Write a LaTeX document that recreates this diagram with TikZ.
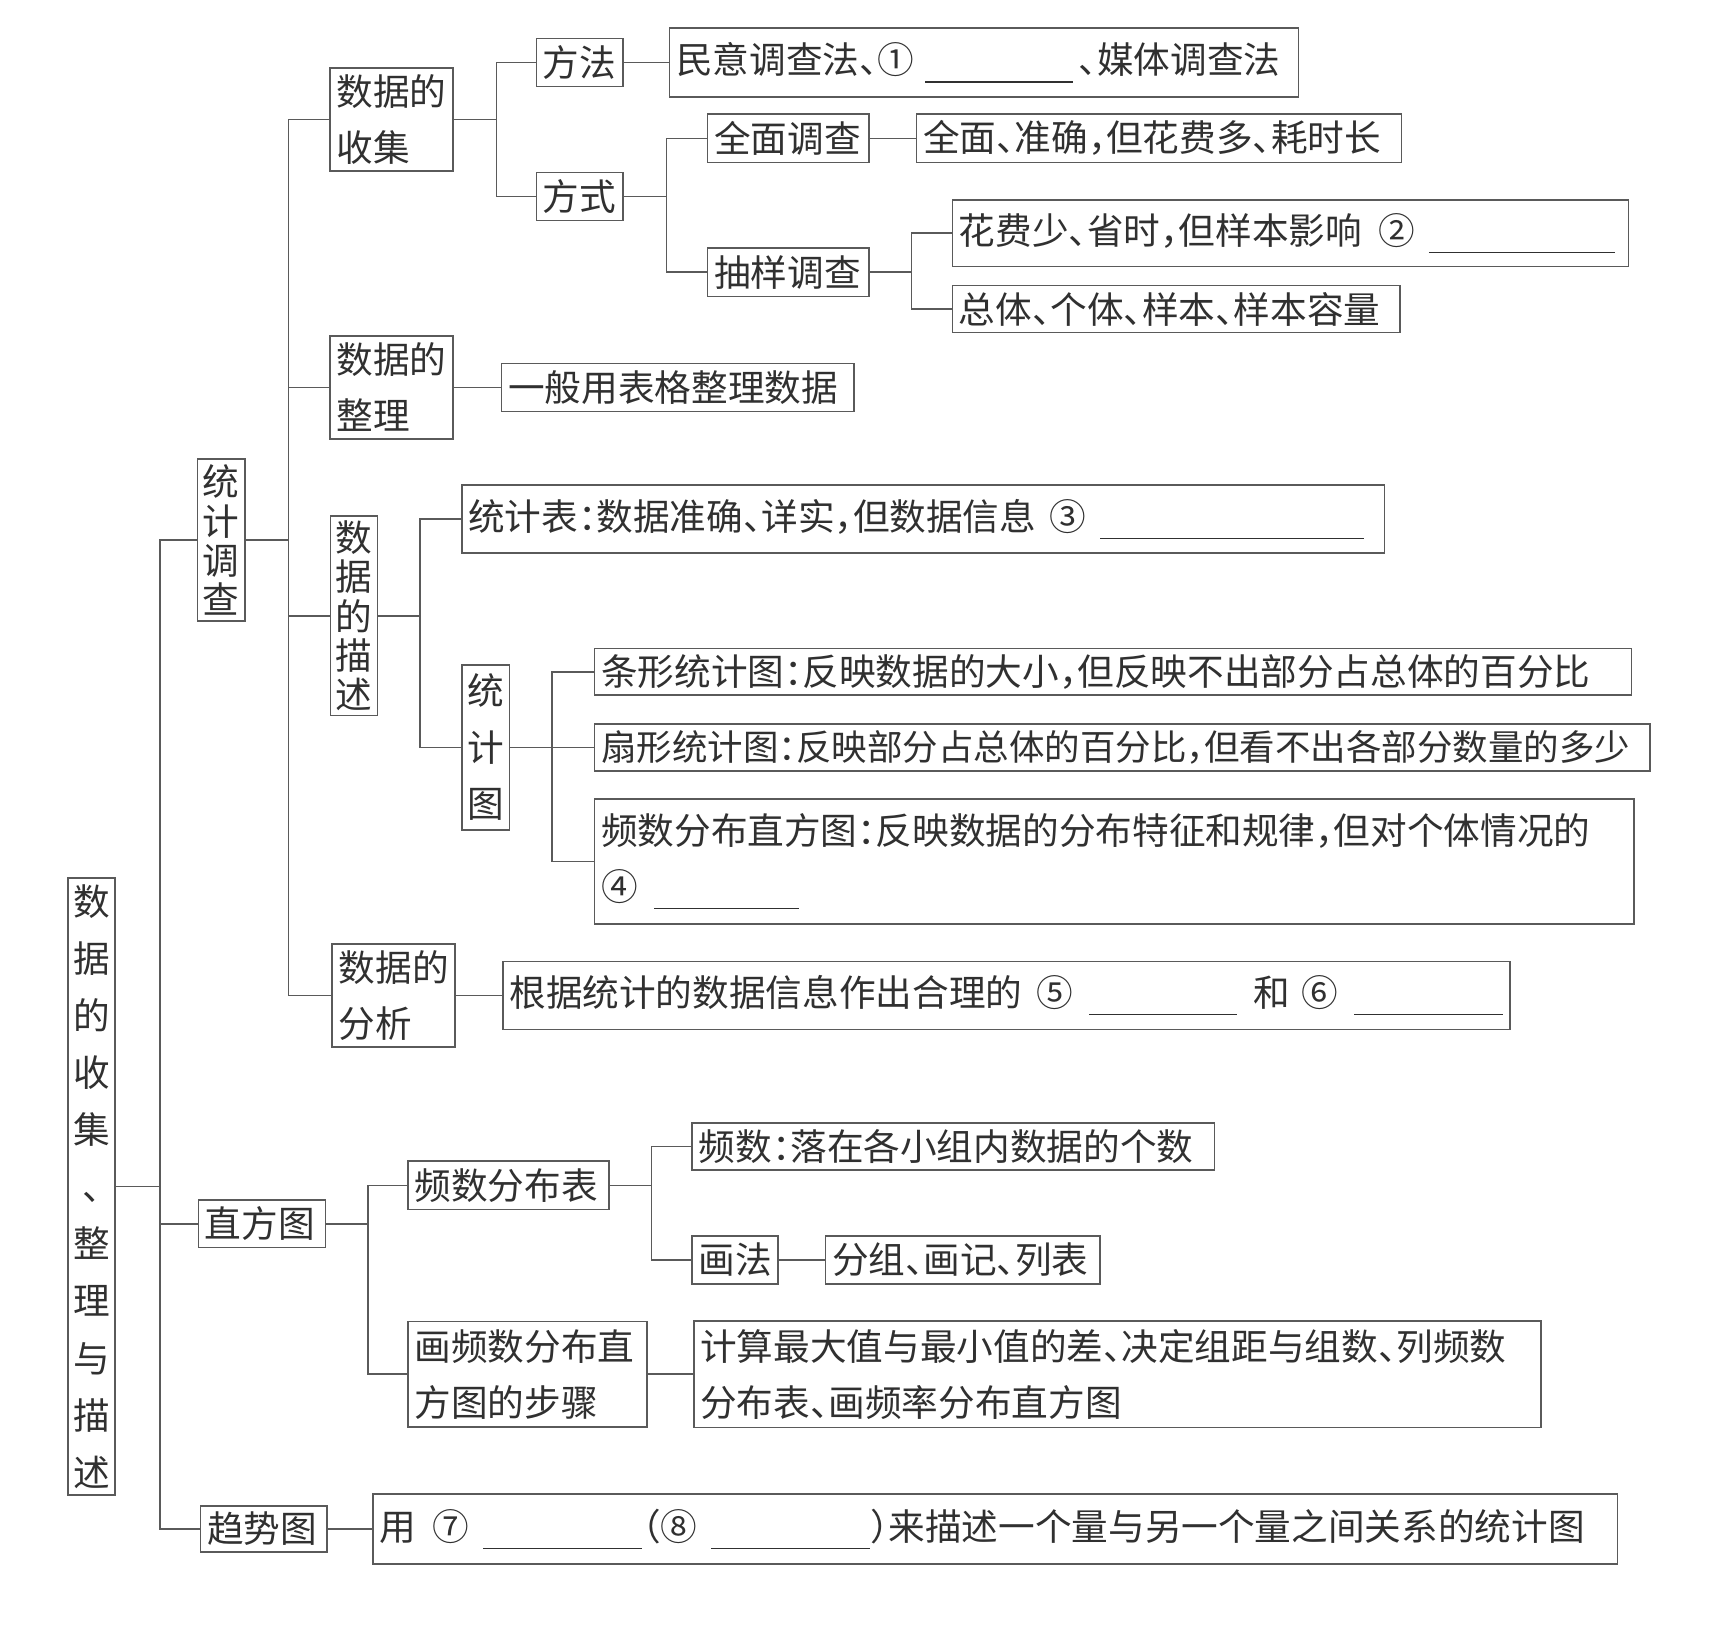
\documentclass[tikz,border=0pt]{standalone}
\usepackage{fontspec}
\setmainfont{Noto Sans CJK SC}[RawFeature=+halt]
\usetikzlibrary{positioning}
\definecolor{linegray}{HTML}{5A5A5A}
\definecolor{inkgray}{HTML}{303030}
\newcommand{\fillin}[1]{\rule[-0.16cm]{#1}{0.7pt}}

\begin{document}
\begin{tikzpicture}[
  x=0.02cm, y=-0.02cm,
  box/.style={draw=linegray, line width=0.8pt, text=inkgray, align=left, anchor=west, inner xsep=0.12cm, inner ysep=0pt, font=\fontsize{19}{29}\selectfont},
  vbox/.style={draw=linegray, line width=0.8pt, text=inkgray, align=center, text width=0.67cm, inner xsep=0.095cm, inner ysep=0pt, font=\fontsize{19}{29.3}\selectfont},
  tight/.style={font=\fontsize{19}{20.3}\selectfont},
  link/.style={draw=linegray, line width=0.8pt}
]
\useasboundingbox (0,0) rectangle (1568,1489);

% root and first level
\node[vbox, minimum height=11.24cm, font=\fontsize{19}{29.6}\selectfont] (root) at (83.5,1081) {数\\据\\的\\收\\集\\、\\整\\理\\与\\描\\述};
\node[vbox, tight, minimum height=2.96cm] (tjdc) at (201.5,492) {统\\计\\调\\查};
\node[box, text width=2.08cm, minimum height=0.86cm] (zft) at (180,1115) {直方图};
\node[box, text width=2.06cm, minimum height=0.84cm] (qst) at (182,1393) {趋势图};

% statistics survey
\node[box, text width=2.00cm, minimum height=1.88cm] (sjsj) at (300,109) {数据的\\收集};
\node[box, text width=2.00cm, minimum height=1.88cm] (sjzl) at (300,353) {数据的\\整理};
\node[vbox, tight, minimum height=3.64cm] (sjms) at (322.5,561) {数\\据\\的\\描\\述};
\node[box, text width=2.00cm, minimum height=1.88cm] (sjfx) at (302,907) {数据的\\分析};

\node[box, text width=1.34cm, minimum height=0.88cm] (ff) at (488,57) {方法};
\node[box, text width=1.34cm, minimum height=0.88cm] (fs) at (488,179) {方式};
\node[box, text width=11.22cm, minimum height=1.26cm, right=0.82cm of ff] (myd) {民意调查法、①\kern0.2cm\fillin{2.7cm}\kern0.1cm、媒体调查法};
\node[box, text width=2.70cm, minimum height=0.88cm] (qmdc) at (644,126) {全面调查};
\node[box, text width=2.70cm, minimum height=0.88cm] (cydc) at (644,248) {抽样调查};
\node[box, text width=8.60cm, minimum height=0.88cm, right=0.84cm of qmdc] (qmzq) {全面、准确，但花费多、耗时长};
\node[box, text width=12.08cm, minimum height=1.22cm] (hfs) at (867,212.5) {花费少、省时，但样本影响\kern0.3cm②\kern0.25cm\fillin{3.4cm}};
\node[box, text width=7.92cm, minimum height=0.86cm] (ztgt) at (867,281.5) {总体、个体、样本、样本容量};
\node[box, text width=6.18cm, minimum height=0.88cm, right=0.86cm of sjzl] (ybyb) {一般用表格整理数据};

\node[box, text width=16.58cm, minimum height=1.24cm] (tjb) at (420,473) {统计表：数据准确、详实，但数据信息\kern0.25cm③\kern0.25cm\fillin{4.8cm}};
\node[vbox, minimum height=3.0cm] (tjt) at (442.5,681) {统\\计\\图};
\node[box, text width=18.66cm, minimum height=0.84cm] (txt) at (541,612) {条形统计图：反映数据的大小，但反映不出部分占总体的百分比};
\node[box, text width=19.00cm, minimum height=0.86cm, font=\fontsize{18.4}{29}\selectfont] (sxt) at (541,681) {扇形统计图：反映部分占总体的百分比，但看不出各部分数量的多少};
\node[box, text width=18.70cm, minimum height=2.28cm] (pszft) at (541,785) {频数分布直方图：反映数据的分布特征和规律，但对个体情况的\\④\kern0.3cm\fillin{2.64cm}};
\node[box, text width=18.12cm, minimum height=1.24cm, right=0.84cm of sjfx] (gjtj) {根据统计的数据信息作出合理的\kern0.25cm⑤\kern0.3cm\fillin{2.7cm}\kern0.3cm和\kern0.2cm⑥\kern0.3cm\fillin{2.7cm}};

% histogram
\node[box, text width=3.42cm, minimum height=0.88cm] (pfb) at (371,1080) {频数分布表};
\node[box, text width=4.12cm, minimum height=1.92cm] (hbz) at (371,1252) {画频数分布直\\方图的步骤};
\node[box, text width=9.28cm, minimum height=0.86cm] (psl) at (630,1044.5) {频数：落在各小组内数据的个数};
\node[box, text width=1.32cm, minimum height=0.88cm] (hf) at (630,1148) {画法};
\node[box, text width=4.76cm, minimum height=0.88cm, right=0.84cm of hf] (fz) {分组、画记、列表};
\node[box, text width=15.20cm, minimum height=1.94cm, right=0.82cm of hbz] (js) {计算最大值与最小值的差、决定组距与组数、列频数\\分布表、画频率分布直方图};

% trend chart
\node[box, text width=22.44cm, minimum height=1.28cm, right=0.82cm of qst] (yong) {用\kern0.3cm⑦\kern0.25cm\fillin{2.9cm}（⑧\kern0.25cm\fillin{2.9cm}）来描述一个量与另一个量之间关系的统计图};

% connectors
\draw[link] (root.east) -- ++(40,0) |- (tjdc.west);
\draw[link] (root.east) -- ++(40,0) |- (zft.west);
\draw[link] (root.east) -- ++(40,0) |- (qst.west);
\draw[link] (tjdc.east) -- ++(39,0) |- (sjsj.west);
\draw[link] (tjdc.east) -- ++(39,0) |- (sjzl.west);
\draw[link] (tjdc.east) -- ++(39,0) |- (sjms.west);
\draw[link] (tjdc.east) -- ++(39,0) |- (sjfx.west);
\draw[link] (sjsj.east) -- ++(39,0) |- (ff.west);
\draw[link] (sjsj.east) -- ++(39,0) |- (fs.west);
\draw[link] (ff) -- (myd);
\draw[link] (fs.east) -- ++(39,0) |- (qmdc.west);
\draw[link] (fs.east) -- ++(39,0) |- (cydc.west);
\draw[link] (qmdc) -- (qmzq);
\draw[link] (cydc.east) -- ++(38,0) |- (hfs.west);
\draw[link] (cydc.east) -- ++(38,0) |- (ztgt.west);
\draw[link] (sjzl) -- (ybyb);
\draw[link] (sjms.east) -- ++(38,0) |- (tjb.west);
\draw[link] (sjms.east) -- ++(38,0) |- (tjt.west);
\draw[link] (tjt.east) -- ++(38,0) |- (txt.west);
\draw[link] (tjt.east) -- ++(38,0) |- (sxt.west);
\draw[link] (tjt.east) -- ++(38,0) |- (pszft.west);
\draw[link] (sjfx) -- (gjtj);
\draw[link] (zft.east) -- ++(38,0) |- (pfb.west);
\draw[link] (zft.east) -- ++(38,0) |- (hbz.west);
\draw[link] (pfb.east) -- ++(38,0) |- (psl.west);
\draw[link] (pfb.east) -- ++(38,0) |- (hf.west);
\draw[link] (hf) -- (fz);
\draw[link] (hbz) -- (js);
\draw[link] (qst) -- (yong);
\end{tikzpicture}
\end{document}
